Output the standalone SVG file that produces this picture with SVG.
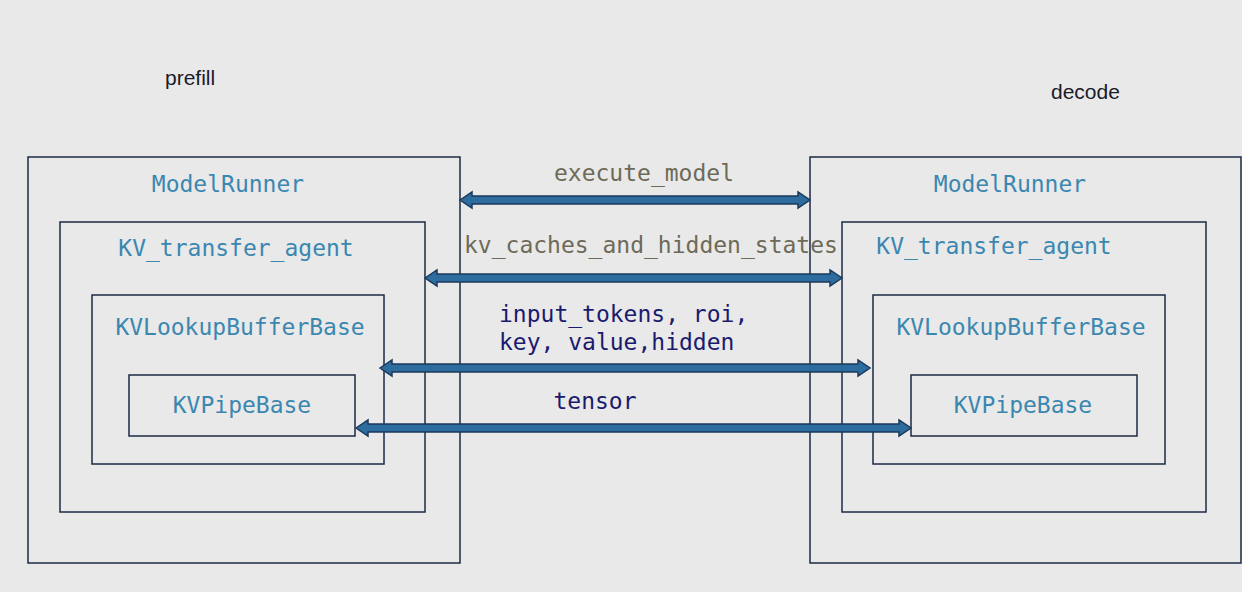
<svg xmlns="http://www.w3.org/2000/svg" width="1242" height="592" viewBox="0 0 1242 592">
<style>
.box{fill:none;stroke:#1c2a44;stroke-width:1.5}
.t{font-family:"DejaVu Sans Mono",monospace;font-size:23px;fill:#3b87b0;text-anchor:middle}
.lbl{font-family:"DejaVu Sans Mono",monospace;font-size:23px}
.cap{font-family:"Liberation Sans",Arial,sans-serif;font-size:21px;fill:#1a1a2a}
.arr{fill:#2d6c9f;stroke:#1b3a5a;stroke-width:1.5;stroke-linejoin:miter}
</style>
<rect width="1242" height="592" fill="#e9e9e9"/>
<text class="cap" x="165" y="85">prefill</text>
<text class="cap" x="1051" y="99">decode</text>
<g id="prefill">
<rect class="box" x="28" y="157" width="432" height="406"/>
<text class="t" x="228" y="192">ModelRunner</text>
<rect class="box" x="60" y="222" width="365" height="290"/>
<text class="t" x="236" y="256">KV_transfer_agent</text>
<rect class="box" x="92" y="295" width="292" height="169"/>
<text class="t" x="240" y="335">KVLookupBufferBase</text>
<rect class="box" x="129" y="375" width="226" height="61"/>
<text class="t" x="242" y="413">KVPipeBase</text>
</g>
<g id="decode">
<rect class="box" x="810" y="157" width="431" height="406"/>
<text class="t" x="1010" y="192">ModelRunner</text>
<rect class="box" x="842" y="222" width="364" height="290"/>
<text class="t" x="994" y="254">KV_transfer_agent</text>
<rect class="box" x="873" y="295" width="292" height="169"/>
<text class="t" x="1021" y="335">KVLookupBufferBase</text>
<rect class="box" x="911" y="375" width="226" height="61"/>
<text class="t" x="1023" y="413">KVPipeBase</text>
</g>
<g id="connectors">
<polygon class="arr" points="460,200 472,192 472,196 798,196 798,192 810,200 798,208 798,204 472,204 472,208"/>
<polygon class="arr" points="425,278 437,270 437,274 830,274 830,270 842,278 830,286 830,282 437,282 437,286"/>
<polygon class="arr" points="380,368 392,360 392,364 858,364 858,360 870,368 858,376 858,372 392,372 392,376"/>
<polygon class="arr" points="356,428 368,420 368,424 899,424 899,420 911,428 899,436 899,432 368,432 368,436"/>
<text class="lbl" x="644" y="181" text-anchor="middle" fill="#6e6a58">execute_model</text>
<text class="lbl" x="464" y="253" fill="#6e6a58">kv_caches_and_hidden_states</text>
<text class="lbl" x="499" y="322" fill="#1a1a6e">input_tokens, roi,</text>
<text class="lbl" x="499" y="350" fill="#1a1a6e">key, value,hidden</text>
<text class="lbl" x="595" y="409" text-anchor="middle" fill="#1a1a6e">tensor</text>
</g>
</svg>
